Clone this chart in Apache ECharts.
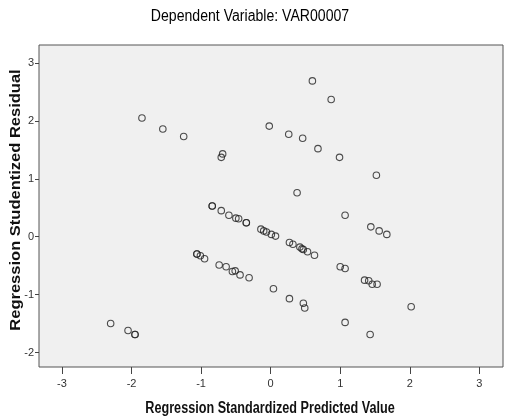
<!DOCTYPE html>
<html>
<head>
<meta charset="utf-8">
<script src="https://cdn.jsdelivr.net/npm/echarts@6/dist/echarts.min.js"></script>
<style type="text/css">
  * { margin: 0; padding: 0; }
  body { background: #fff; }
</style>
</head>
<body>
<div id="scatter" style="width: 506px;height: 418px;"></div>
<script type="text/javascript">
  // predicted values (x) and studentized residuals (y)
  var predicted = [
    -1.85, -1.55, -1.25, -0.69, -0.71, -0.02, 0.60, 0.87, 0.26, 0.46, 0.68, 0.99, 1.52, 0.38,
    -0.84, -0.84, -0.71, -0.60, -0.50, -0.46, -0.35, -0.35, -0.14, -0.10, -0.06, 0.01, 0.07,
    0.27, 0.32, 0.42, 0.45, 0.47, 0.53, 0.63,
    1.07, 1.44, 1.56, 1.67,
    -1.06, -1.06, -1.01, -0.95, -0.74, -0.64, -0.55, -0.51, -0.44, -0.31,
    0.04, 0.27, 0.47, 0.49,
    1.00, 1.07, 1.35, 1.41, 1.46, 1.53, 2.02, 1.07, 1.43,
    -2.30, -2.05, -1.95, -1.95
  ]
  var residual = [
    2.05, 1.86, 1.73, 1.43, 1.37, 1.91, 2.69, 2.37, 1.77, 1.70, 1.52, 1.37, 1.06, 0.76,
    0.53, 0.53, 0.45, 0.37, 0.32, 0.31, 0.24, 0.24, 0.13, 0.10, 0.08, 0.04, 0.01,
    -0.10, -0.13, -0.18, -0.21, -0.22, -0.26, -0.32,
    0.37, 0.17, 0.10, 0.04,
    -0.30, -0.30, -0.33, -0.38, -0.49, -0.52, -0.60, -0.59, -0.66, -0.71,
    -0.90, -1.07, -1.15, -1.23,
    -0.52, -0.55, -0.75, -0.76, -0.82, -0.82, -1.21, -1.48, -1.69,
    -1.50, -1.62, -1.69, -1.69
  ]
  var xTicks = [-3, -2, -1, 0, 1, 2, 3]
  var yTicks = [-2, -1, 0, 1, 2, 3]

  var points = predicted.map(function (x, i) {
    return [x, residual[i]]
  })

  var myChart = echarts.init(document.getElementById('scatter'))
  myChart.setOption({
    animation: false,
    backgroundColor: '#ffffff',
    // headings as graphic text so they can be squeezed / stretched like the original
    graphic: [
      {
        type: 'text',
        x: 250,
        y: 17,
        scaleX: 0.88,
        style: {
          text: 'Dependent Variable: VAR00007',
          font: '16px "Liberation Sans", Arial, sans-serif',
          fill: '#000',
          align: 'center',
          verticalAlign: 'middle'
        }
      },
      {
        type: 'text',
        x: 270,
        y: 409,
        scaleX: 0.79,
        style: {
          text: 'Regression Standardized Predicted Value',
          font: 'bold 16px "Liberation Sans", Arial, sans-serif',
          fill: '#111',
          align: 'center',
          verticalAlign: 'middle'
        }
      },
      {
        type: 'text',
        x: 16,
        y: 200,
        rotation: Math.PI / 2,
        scaleX: 1.1,
        style: {
          text: 'Regression Studentized Residual',
          font: 'bold 15px "Liberation Sans", Arial, sans-serif',
          fill: '#111',
          align: 'center',
          verticalAlign: 'middle'
        }
      }
    ],
    grid: {
      left: 39,
      top: 45,
      right: 3,
      bottom: 51,
      outerBoundsMode: 'none',
      show: true,
      backgroundColor: '#f0f0f0',
      borderColor: '#555',
      borderWidth: 1
    },
    xAxis: {
      type: 'value',
      min: -3.33,
      max: 3.34,
      splitLine: {show: false},
      axisLine: {show: false, onZero: false},
      axisTick: {
        show: true,
        length: 7,
        customValues: xTicks,
        lineStyle: {color: '#444'}
      },
      axisLabel: {
        customValues: xTicks,
        margin: 11,
        fontFamily: 'Arial, "Liberation Sans", sans-serif',
        fontSize: 11,
        color: '#333'
      }
    },
    yAxis: {
      type: 'value',
      min: -2.25,
      max: 3.31,
      splitLine: {show: false},
      axisLine: {show: false, onZero: false},
      axisTick: {
        show: true,
        length: 4,
        customValues: yTicks,
        lineStyle: {color: '#444'}
      },
      axisLabel: {
        customValues: yTicks,
        margin: 5,
        fontFamily: 'Arial, "Liberation Sans", sans-serif',
        fontSize: 11,
        color: '#333'
      }
    },
    series: [{
      type: 'scatter',
      data: points,
      symbol: 'circle',
      symbolSize: 6.5,
      itemStyle: {
        color: 'rgba(0,0,0,0)',
        borderColor: '#222',
        borderWidth: 1.1
      }
    }]
  })
</script>
</body>
</html>
